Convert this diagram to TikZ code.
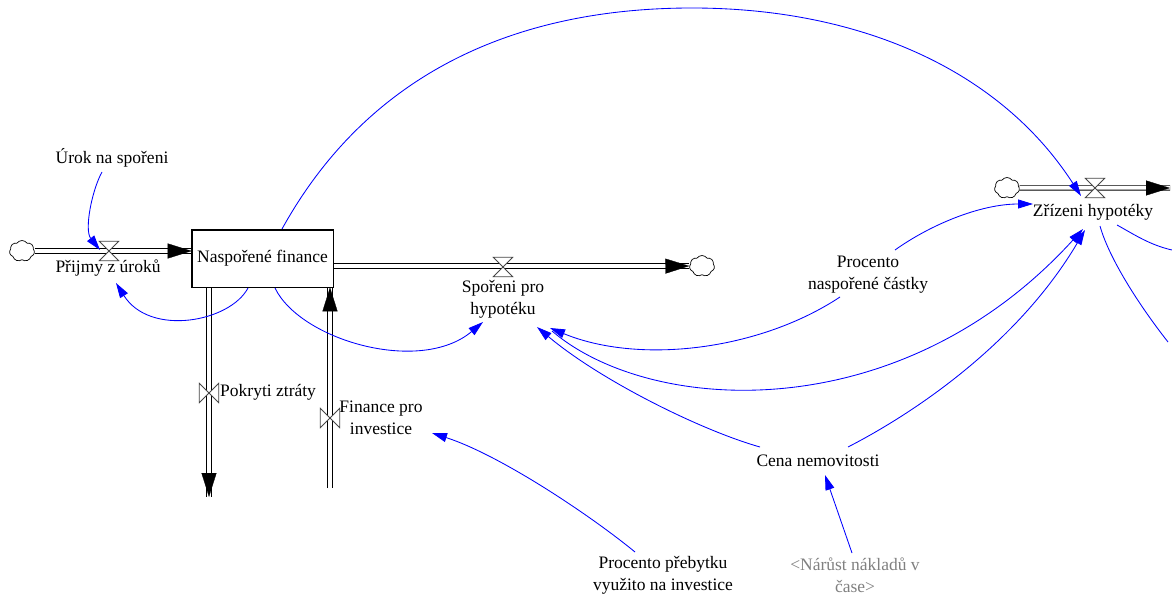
\documentclass[tikz,border=0pt]{standalone}
\usepackage{fontspec}
\setmainfont{Liberation Serif}
\usetikzlibrary{arrows.meta,shapes.symbols}
\definecolor{linkblue}{RGB}{0,0,255}
\definecolor{ghost}{RGB}{128,128,128}
\definecolor{valvegray}{RGB}{70,70,70}
\begin{document}
\begin{tikzpicture}[x=1pt,y=-1pt,
  every node/.style={font=\fontsize{17.5}{22}\selectfont, align=center, inner sep=1pt},
  stock/.style={draw, line width=0.6pt, fill=white, minimum width=141pt, minimum height=57pt, inner sep=0pt},
  cloudshape/.style={cloud, cloud puffs=7, cloud puff arc=110, draw, line width=0.7pt, minimum width=25pt, minimum height=21pt, inner sep=0pt, fill=white},
  valvebox/.style={minimum size=19pt, inner sep=0pt},
  valvedraw/.style={draw=valvegray, fill=white, line width=0.8pt},
  pipe/.style={draw=black, double=white, double distance=3.5pt, line width=0.9pt},
  pipetip/.style={draw=white, line width=0.3pt, -{Triangle[length=24pt,width=15pt,color=black]}},
  link/.style={draw=linkblue, line width=0.85pt, -{Triangle[length=15pt,width=9pt]}},
  linkplain/.style={draw=linkblue, line width=0.85pt}
]
\useasboundingbox[fill=white] (0,0) rectangle (1172,596);

% nodes
\node[stock] (nf) at (262.5,258.5) {Naspořené finance};
\node[cloudshape] (c1) at (22,251) {};
\node[valvebox] (v1) at (109,251) {};
\node (prij) at (108,268) {Přijmy z úroků};
\node (urok) at (112,158) {Úrok na spořeni};
\node[valvebox] (v2) at (503,267) {};
\node (spor) at (503,299) {Spořeni pro\\hypotéku};
\node[cloudshape] (c2) at (702,266) {};
\node[cloudshape] (c3) at (1007,188) {};
\node[valvebox] (v3) at (1095,188) {};
\node (zriz) at (1093,212) {Zřízeni hypotéky};
\coordinate (zEnd) at (1170,188);
\node[valvebox] (v4) at (209,393) {};
\node[anchor=west] (pokr) at (219,392) {Pokryti ztráty};
\coordinate (pEnd) at (209,497);
\node[valvebox] (v5) at (330,418) {};
\node (fin) at (381,418) {Finance pro\\investice};
\coordinate (fStart) at (330,488);
\node (procN) at (868,275) {Procento\\naspořené částky};
\node (cena) at (818,461) {Cena nemovitosti};
\node (procP) at (663,575) {Procento přebytku\\využito na investice};
\node[text=ghost] (nar) at (855,575) {<Nárůst nákladů v\\čase>};

% pipes
\coordinate (p1tip) at (c1.east -| nf.west);
\draw[pipe] (c1.east) -- (p1tip);
\draw[pipetip] (v1.center) -- (p1tip);
\coordinate (p2s) at (c2.west -| nf.east);
\draw[pipe] (p2s) -- (c2.west);
\draw[pipetip] (v2.center) -- (c2.west);
\draw[pipe] (c3.east) -- (zEnd);
\draw[pipetip] (v3.center) -- (zEnd);
\coordinate (p4s) at (v4 |- nf.south);
\draw[pipe] (p4s) -- (pEnd);
\draw[pipetip] (v4.center) -- (pEnd);
\coordinate (p5e) at (v5 |- nf.south);
\draw[pipe] (fStart) -- (p5e);
\draw[pipetip] (v5.center) -- (p5e);
% stock border redrawn over pipe ends
\draw[line width=0.6pt] (nf.south west) rectangle (nf.north east);

% valves
\foreach \v in {v1,v2,v3}
  \draw[valvedraw] (\v.north west) -- (\v.north east) -- (\v.south west) -- (\v.south east) -- cycle;
\foreach \v in {v4,v5}
  \draw[valvedraw] (\v.north west) -- (\v.south west) -- (\v.north east) -- (\v.south east) -- cycle;

% links
\draw[link] ([shift={(-10,14)}]urok.center) .. controls (92,190) and (84,230) .. ([shift={(-9,-1)}]v1.center);
\draw[link] ([shift={(-14.5,29.5)}]nf.center) .. controls (230,322) and (150,337) .. ([shift={(8,15)}]prij.center);
\coordinate (apex) at (692,8);
\draw[link] ([shift={(19.5,-29.5)}]nf.center) .. controls (370,70) and (520,8) .. (apex) .. controls (860,8) and (1000,70) .. ([shift={(-14,8)}]v3.center);
\draw[link] ([shift={(12.5,29.5)}]nf.center) .. controls (300,340) and (420,375) .. ([shift={(-20,23)}]spor.center);
\draw[link] ([shift={(27,-25)}]procN.center) .. controls (930,225) and (980,204) .. ([shift={(-60,-8)}]zriz.center);
\draw[link] ([shift={(-28,22)}]procN.center) .. controls (760,350) and (640,365) .. ([shift={(47,29)}]spor.center);
\draw[link] ([shift={(49,32)}]spor.center) .. controls (650,415) and (900,430) .. ([shift={(-10,17)}]zriz.center);
\draw[link] ([shift={(-58,-14)}]cena.center) .. controls (700,430) and (600,380) .. ([shift={(34,28)}]spor.center);
\draw[link] ([shift={(30,-14)}]cena.center) .. controls (920,410) and (1020,340) .. ([shift={(-8,18)}]zriz.center);
\coordinate (off1) at (1172,250);
\draw[linkplain] ([shift={(24,13)}]zriz.center) .. controls (1135,235) and (1150,245) .. (off1);
\coordinate (off2) at (1168,342);
\draw[linkplain] ([shift={(7,14)}]zriz.center) .. controls (1108,255) and (1135,300) .. (off2);
\draw[link] ([shift={(-28,-23)}]procP.center) .. controls (590,515) and (500,455) .. ([shift={(51,15)}]fin.center);
\draw[link] ([shift={(-3,-22)}]nar.center) -- ([shift={(7,14)}]cena.center);
\end{tikzpicture}
\end{document}
